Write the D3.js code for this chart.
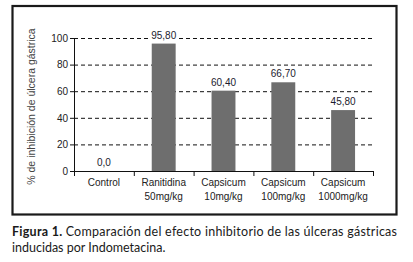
<!DOCTYPE html>
<html>
<head>
<meta charset="utf-8">
<script src="https://cdn.jsdelivr.net/npm/d3@7"></script>
<style>
  body { margin: 0; background: #fff; }
  svg { display: block; }
</style>
</head>
<body>
<div class="chart"></div>
<script>
var width = 413;
var height = 262;

var groups = ['Control', 'Ranitidina', 'Capsicum', 'Capsicum', 'Capsicum'];
var doses = ['', '50mg/kg', '10mg/kg', '100mg/kg', '1000mg/kg'];
var values = [0.0, 95.8, 60.4, 66.7, 45.8];
var labels = ['0,0', '95,80', '60,40', '66,70', '45,80'];
var yTicks = [0, 20, 40, 60, 80, 100];

var margin = {left: 74, right: 40, top: 38, bottom: 91};

var svg = d3.select('.chart').append('svg')
  .attr('width', width)
  .attr('height', height)
  .style('font-family', '"Liberation Sans", Arial, sans-serif');

// frame
svg.append('rect')
  .attr('x', 12.5).attr('y', 6)
  .attr('width', 384).attr('height', 208.5)
  .attr('fill', 'none')
  .attr('stroke', '#1a1a1a')
  .attr('stroke-width', 2.2);

var x = d3.scaleBand()
  .domain(d3.range(values.length))
  .range([margin.left, width - margin.right])
  .paddingInner(0.6)
  .paddingOuter(0.3);

var y = d3.scaleLinear()
  .domain([0, 100])
  .range([height - margin.bottom, margin.top]);

// grid
svg.append('g').selectAll('line')
  .data(yTicks.filter(d => d > 0))
  .enter().append('line')
    .attr('x1', margin.left)
    .attr('x2', width - margin.right)
    .attr('y1', d => y(d) + 0.5)
    .attr('y2', d => y(d) + 0.5)
    .attr('stroke', '#111')
    .attr('stroke-dasharray', '4,3');

// bars
svg.append('g').selectAll('rect')
  .data(values)
  .enter().append('rect')
    .attr('x', (d, i) => x(i))
    .attr('y', d => y(d))
    .attr('width', x.bandwidth())
    .attr('height', d => y(0) - y(d))
    .attr('fill', '#6e6e6e');

// value labels
var vl = svg.append('g').selectAll('g')
  .data(values)
  .enter().append('g')
    .attr('transform', (d, i) => `translate(${x(i) + x.bandwidth() / 2},${y(d) - 5})`);

vl.append('rect')
  .attr('x', -15).attr('y', -10)
  .attr('width', 30).attr('height', 12)
  .attr('fill', '#fff');

vl.append('text')
  .attr('text-anchor', 'middle')
  .style('font-size', '10px')
  .attr('fill', '#1c1c2e')
  .text((d, i) => labels[i]);

// y axis
var yAxis = svg.append('g')
  .attr('transform', `translate(${margin.left},0)`)
  .call(d3.axisLeft(y).tickValues(yTicks).tickSize(4).tickPadding(2));
yAxis.select('.domain').attr('stroke', '#111');
yAxis.selectAll('.tick line').attr('stroke', '#111');
yAxis.selectAll('text').style('font-size', '10px').attr('fill', '#222').style('font-family', '"Liberation Sans", Arial, sans-serif');

// x axis
var xEdge = d3.range(values.length + 1).map(i => margin.left + i * (width - margin.right - margin.left) / values.length);
var xa = svg.append('g');
xa.append('line')
  .attr('x1', margin.left).attr('x2', width - margin.right)
  .attr('y1', y(0) + 0.5).attr('y2', y(0) + 0.5)
  .attr('stroke', '#111');
xa.selectAll('.tk')
  .data(xEdge)
  .enter().append('line')
    .attr('x1', d => d + 0.5).attr('x2', d => d + 0.5)
    .attr('y1', y(0)).attr('y2', y(0) + 5)
    .attr('stroke', '#111');

var cat = svg.append('g').selectAll('text')
  .data(groups)
  .enter().append('text')
    .attr('text-anchor', 'middle')
    .attr('transform', (d, i) => `translate(${x(i) + x.bandwidth() / 2},0)`)
    .style('font-size', '10px')
    .attr('fill', '#222');
cat.append('tspan').attr('x', 0).attr('y', 186).text(d => d);
cat.append('tspan').attr('x', 0).attr('y', 200).text((d, i) => doses[i]);

// y title
svg.append('text')
  .attr('transform', `translate(35,${(y(0) + y(100)) / 2 + 2}) rotate(-90)`)
  .attr('text-anchor', 'middle')
  .style('font-size', '10.5px')
  .attr('fill', '#444')
  .text('% de inhibición de úlcera gástrica');

// caption
var cap = svg.append('g')
  .style('font-family', 'Lato, "Open Sans", sans-serif')
  .style('font-size', '12.5px')
  .attr('fill', '#1a1a1a');
var line1 = cap.append('text')
  .attr('x', 12).attr('y', 236)
  .attr('textLength', 385)
  .attr('lengthAdjust', 'spacing');
line1.append('tspan').style('font-weight', 'bold').text('Figura 1. ');
line1.append('tspan').text('Comparación del efecto inhibitorio de las úlceras gástricas');
cap.append('text')
  .attr('x', 12).attr('y', 252)
  .text('inducidas por Indometacina.');
</script>
</body>
</html>
